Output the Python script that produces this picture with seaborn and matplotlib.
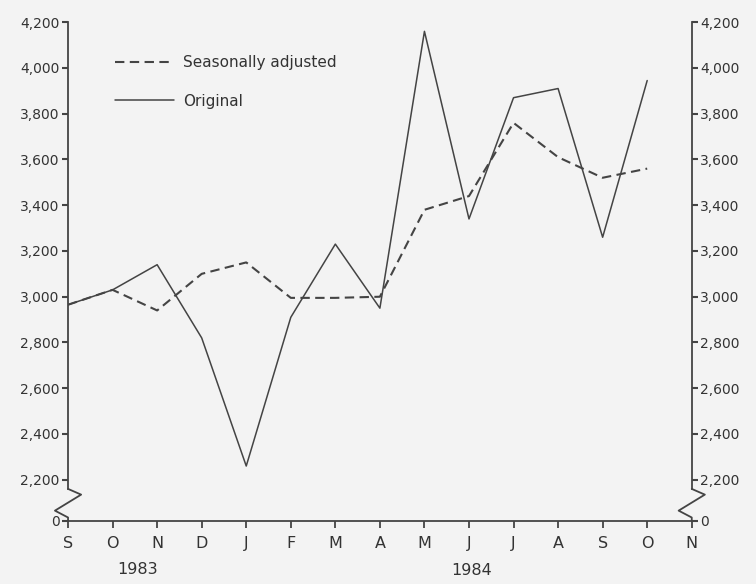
import matplotlib
matplotlib.use("Agg")
import matplotlib.pyplot as plt
import matplotlib.transforms as mtransforms
import seaborn as sns
import pandas as pd

# ---- data ----
months = ["S", "O", "N", "D", "J", "F", "M", "A", "M", "J", "J", "A", "S", "O", "N"]
original = [2965, 3030, 3140, 2820, 2260, 2910, 3230, 2950, 4160, 3340, 3870, 3910, 3260, 3945]
seasonally_adjusted = [2965, 3030, 2940, 3100, 3150, 2995, 2995, 3000, 3380, 3440, 3760, 3610, 3520, 3560]
ytick_values = [2200, 2400, 2600, 2800, 3000, 3200, 3400, 3600, 3800, 4000, 4200]
year_labels = ["1983", "1984"]

sns.set_theme(style="white")
plt.rcParams["font.family"] = ["DejaVu Sans"]

INK = "#444444"
TXT = "#333333"
BG = "#f3f3f3"

fig = plt.figure(figsize=(7.56, 5.84), dpi=100, facecolor=BG)
ax = fig.add_axes([0.090, 0.108, 0.825, 0.854])
ax.set_facecolor(BG)

df = pd.DataFrame({
    "idx": list(range(len(original))),
    "Original": original,
    "Seasonally adjusted": seasonally_adjusted,
})

sns.lineplot(data=df, x="idx", y="Seasonally adjusted", ax=ax, color=INK,
             lw=1.5, label="Seasonally adjusted")
sns.lineplot(data=df, x="idx", y="Original", ax=ax, color=INK,
             lw=1.1, label="Original")
ax.lines[0].set_dashes((4.5, 2.6))

y_zero = 2020
ax.set_xlim(0, len(months) - 1)
ax.set_ylim(y_zero, 4200)

ax.set_xticks(range(len(months)))
ax.set_xticklabels(months)
ax.set_yticks([y_zero] + ytick_values)
ax.set_yticklabels(["0"] + [f"{v:,}" for v in ytick_values])
ax.set_xlabel("")
ax.set_ylabel("")

ax.spines["top"].set_visible(False)
for s in ["left", "right", "bottom"]:
    ax.spines[s].set_color(INK)
    ax.spines[s].set_linewidth(1.3)

brk_top = 2160
ax.spines["left"].set_bounds(brk_top, 4200)
ax.spines["right"].set_bounds(brk_top, 4200)

ax.tick_params(axis="y", which="both", left=True, right=True, labelleft=True,
               labelright=True, direction="out", length=4, width=1.5,
               color=INK, labelsize=10, labelcolor=TXT, pad=2)
ax.tick_params(axis="x", bottom=True, direction="out", length=5, width=1.3,
               color=INK, labelsize=11.5, labelcolor=TXT, pad=6)

# axis break zig-zags
trans = mtransforms.blended_transform_factory(ax.transAxes, ax.transData)
dx = 0.021
zig_y = [brk_top, brk_top - 25, brk_top - 95, y_zero + 15, y_zero]
for x0 in (0.0, 1.0):
    ax.plot([x0, x0 + dx, x0 - dx, x0, x0], zig_y, transform=trans, color=INK,
            lw=1.3, clip_on=False)

# year labels
ttrans = mtransforms.blended_transform_factory(ax.transData, ax.transAxes)
ax.text(1.55, -0.097, year_labels[0], transform=ttrans, ha="center", va="center",
        fontsize=11.5, color=TXT)
ax.text(9.05, -0.100, year_labels[1], transform=ttrans, ha="center", va="center",
        fontsize=11.5, color=TXT)

leg = ax.legend(loc="upper left", bbox_to_anchor=(0.054, 0.962), frameon=False,
                handlelength=3.8, handletextpad=0.6, labelspacing=1.55,
                fontsize=11)
for t in leg.get_texts():
    t.set_color(TXT)

fig.savefig("out.png", dpi=100, facecolor=BG)
